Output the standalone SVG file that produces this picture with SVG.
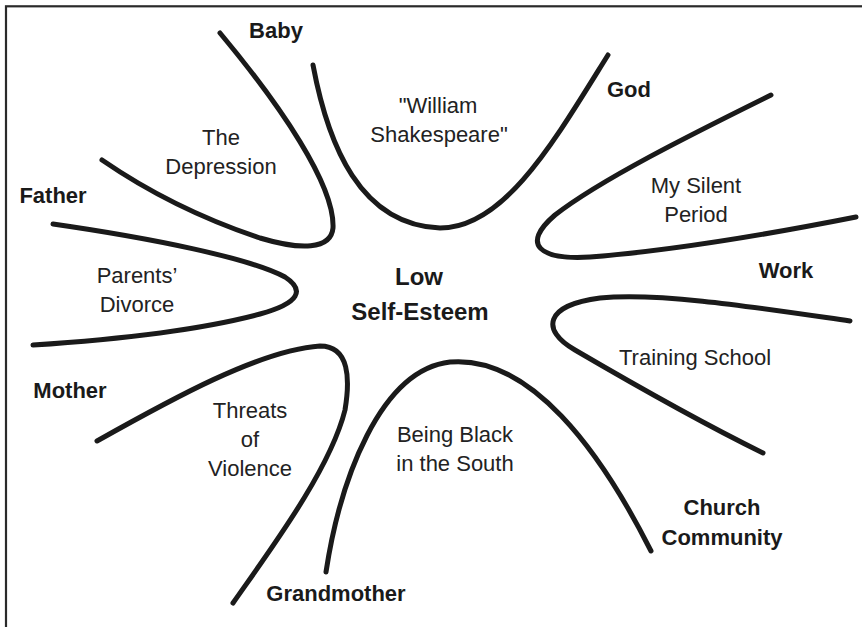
<svg xmlns="http://www.w3.org/2000/svg" width="862" height="627" viewBox="0 0 862 627">
  <style>
    .frame { fill: none; stroke: #2a2a2a; stroke-width: 2.2; }
    .arc { fill: none; stroke: #1a1a1a; stroke-width: 5; stroke-linecap: round; stroke-linejoin: round; }
    .lbl { font-family: "Liberation Sans", Arial, Helvetica, sans-serif; font-size: 22px; fill: #222; text-anchor: middle; }
    .who { font-family: "Liberation Sans", Arial, Helvetica, sans-serif; font-size: 22px; font-weight: bold; fill: #1a1a1a; text-anchor: middle; }
    .core { font-family: "Liberation Sans", Arial, Helvetica, sans-serif; font-size: 24px; font-weight: bold; fill: #1a1a1a; text-anchor: middle; }
  </style>
  <rect width="862" height="627" fill="#ffffff"/>
  <rect class="frame" x="6" y="6.3" width="880" height="650"/>

  <!-- curved dividers between the influences -->
  <g id="connectors">
    <path class="arc" d="M220,33 C280,105 335,185 333,228 C331,250 300,250 260,238 C200,218 150,193 102,160"/>
    <path class="arc" d="M313,65 C328,145 360,225 440,228 C505,228 555,140 608,55"/>
    <path class="arc" d="M771,95 C690,135 600,180 555,215 C520,245 540,260 590,257 C680,250 780,232 856,217"/>
    <path class="arc" d="M53,224 C150,238 250,258 285,277 C305,290 300,303 260,314 C200,330 110,340 33,345"/>
    <path class="arc" d="M97,441 C170,400 260,350 320,346 C350,346 350,380 345,410 C330,470 270,550 233,603"/>
    <path class="arc" d="M326,572 C340,480 380,370 450,362 C530,355 600,450 651,551"/>
    <path class="arc" d="M850,321 C760,308 660,292 600,298 C545,305 540,330 575,350 C640,388 700,422 763,453"/>
  </g>

  <g id="center">
    <text class="core" x="419" y="285">Low</text>
    <text class="core" x="420" y="320">Self-Esteem</text>
  </g>

  <g id="baby"><text class="who" x="276" y="38">Baby</text></g>
  <g id="god"><text class="who" x="629" y="97">God</text></g>
  <g id="father"><text class="who" x="53" y="203">Father</text></g>
  <g id="work"><text class="who" x="786" y="278">Work</text></g>
  <g id="mother"><text class="who" x="70" y="398">Mother</text></g>
  <g id="church">
    <text class="who" x="722" y="515">Church</text>
    <text class="who" x="722" y="545">Community</text>
  </g>
  <g id="grandmother"><text class="who" x="336" y="601">Grandmother</text></g>

  <g id="depression">
    <text class="lbl" x="221" y="145">The</text>
    <text class="lbl" x="221" y="174">Depression</text>
  </g>
  <g id="shakespeare">
    <text class="lbl" x="438" y="113">"William</text>
    <text class="lbl" x="439" y="142">Shakespeare"</text>
  </g>
  <g id="silent">
    <text class="lbl" x="696" y="193">My Silent</text>
    <text class="lbl" x="696" y="222">Period</text>
  </g>
  <g id="divorce">
    <text class="lbl" x="137" y="283">Parents’</text>
    <text class="lbl" x="137" y="312">Divorce</text>
  </g>
  <g id="training"><text class="lbl" x="695" y="365">Training School</text></g>
  <g id="threats">
    <text class="lbl" x="250" y="418">Threats</text>
    <text class="lbl" x="250" y="447">of</text>
    <text class="lbl" x="250" y="476">Violence</text>
  </g>
  <g id="south">
    <text class="lbl" x="455" y="442">Being Black</text>
    <text class="lbl" x="455" y="471">in the South</text>
  </g>
</svg>
